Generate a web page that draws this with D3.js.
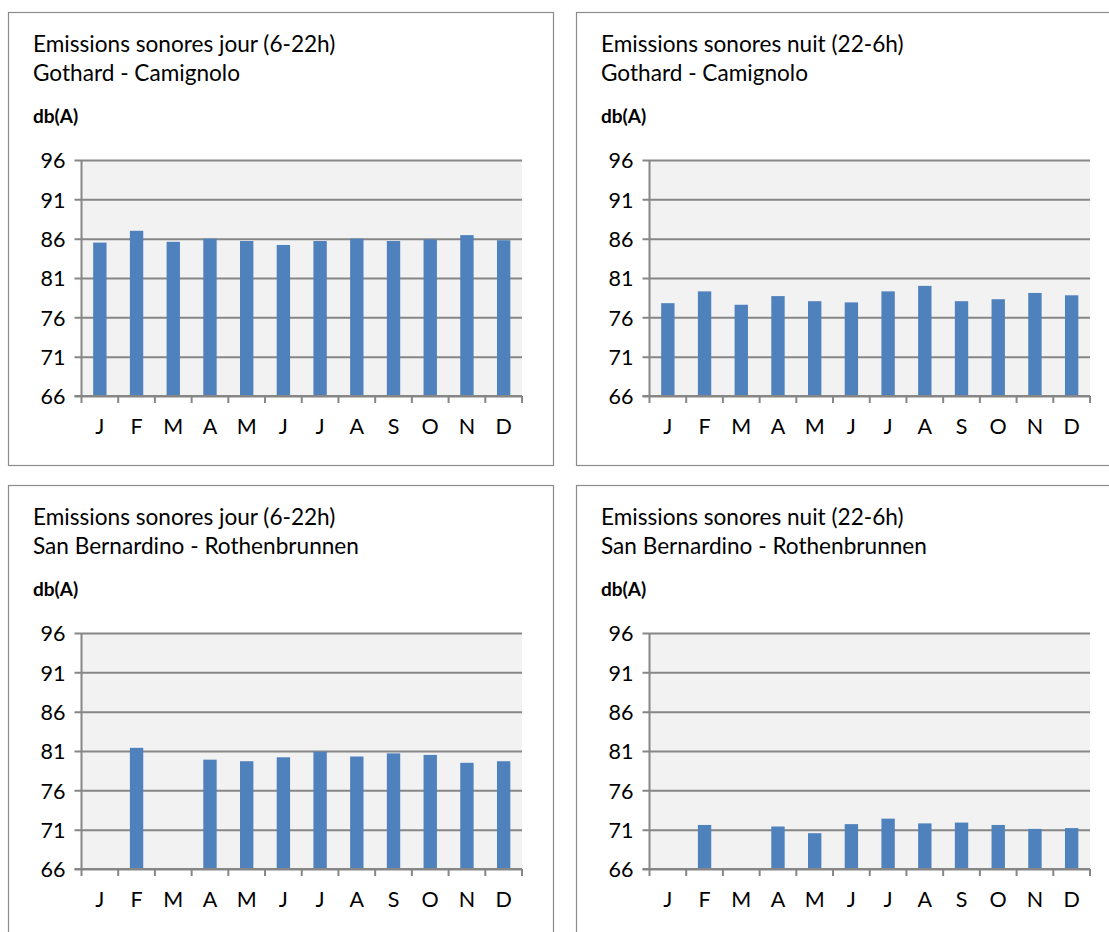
<!DOCTYPE html>
<html><head><meta charset="utf-8">
<script src="https://cdn.jsdelivr.net/npm/d3@7"></script>
<style>body{margin:0;background:#fff}svg{display:block}text{font-family:Lato,"Open Sans",sans-serif;fill:#000}</style>
</head><body><svg id="c" width="1109" height="932"></svg>
<script>
const months = ["J","F","M","A","M","J","J","A","S","O","N","D"];
const yTicks = [66,71,76,81,86,91,96];
const titles1 = ["Emissions sonores jour (6-22h)","Emissions sonores nuit (22-6h)","Emissions sonores jour (6-22h)","Emissions sonores nuit (22-6h)"];
const titles2 = ["Gothard - Camignolo","Gothard - Camignolo","San Bernardino - Rothenbrunnen","San Bernardino - Rothenbrunnen"];
const unitLabel = "db(A)";
const gothardJour = [85.5,87.0,85.6,86.0,85.7,85.2,85.7,86.0,85.7,85.9,86.45,85.8];
const gothardNuit = [77.8,79.3,77.6,78.7,78.05,77.9,79.3,80.0,78.05,78.3,79.1,78.8];
const sanBernJour = [null,81.4,null,79.9,79.7,80.2,80.9,80.3,80.7,80.5,79.5,79.7];
const sanBernNuit = [null,71.6,null,71.4,70.55,71.7,72.4,71.8,71.9,71.6,71.1,71.2];
const seriesList = [gothardJour, gothardNuit, sanBernJour, sanBernNuit];

const svg = d3.select("#c");
const panels = [
  {x:8,y:12,w:545,h:453},
  {x:576,y:12,w:545,h:453},
  {x:8,y:485,w:545,h:460},
  {x:576,y:485,w:545,h:460}
];
const barColor = "#4F81BD", gridColor = "#868686";

panels.forEach((p,i)=>{
  const g = svg.append("g").attr("transform",`translate(${p.x},${p.y})`);
  g.append("rect").attr("x",0.5).attr("y",0.5).attr("width",p.w).attr("height",p.h)
    .attr("fill","#fff").attr("stroke","#8c8c8c").attr("stroke-width",1.2);
  g.append("text").attr("x",25).attr("y",40).attr("font-size",22.6).text(titles1[i]);
  g.append("text").attr("x",25).attr("y",69).attr("font-size",22.6).text(titles2[i]);
  g.append("text").attr("x",25).attr("y",111).attr("font-size",19).attr("font-weight","bold").text(unitLabel);

  const left = 73.5, right = 514, top = 148, bottom = 384;
  const x = d3.scaleBand().domain(d3.range(12)).range([left,right]).paddingInner(0.636).paddingOuter(0.318);
  const xb = d3.scaleBand().domain(d3.range(12)).range([left,right]).padding(0);
  const y = d3.scaleLinear().domain([66,96]).range([bottom,top]);

  g.append("rect").attr("x",left).attr("y",top).attr("width",right-left).attr("height",bottom-top).attr("fill","#F2F2F2");
  const ya = d3.axisLeft(y).tickValues(yTicks).tickSize(-(right-left)).tickPadding(16).tickFormat(d3.format("d"));
  const yg = g.append("g").attr("transform",`translate(${left},0)`).call(ya);
  yg.select(".domain").remove();
  yg.selectAll(".tick line").attr("stroke",gridColor).attr("stroke-width",2).attr("x1",-7);
  yg.selectAll(".tick text").attr("font-size",21.5).attr("font-family","Lato,'Open Sans',sans-serif").attr("fill","#000").attr("dy","0.36em");
  g.append("line").attr("x1",left).attr("x2",left).attr("y1",top).attr("y2",bottom).attr("stroke",gridColor).attr("stroke-width",2);

  g.selectAll("rect.bar").data(seriesList[i].map((v,k)=>({v,k})).filter(d=>d.v!=null)).enter()
    .append("rect").attr("class","bar")
    .attr("x",d=>x(d.k)).attr("width",x.bandwidth())
    .attr("y",d=>y(d.v)).attr("height",d=>bottom-y(d.v)).attr("fill",barColor);

  g.append("line").attr("x1",left-7).attr("x2",right).attr("y1",bottom).attr("y2",bottom).attr("stroke",gridColor).attr("stroke-width",2);
  const tickPos = d3.range(13).map(k=> left + k*xb.bandwidth());
  g.selectAll("line.xt").data(tickPos).enter().append("line").attr("class","xt")
    .attr("x1",d=>d).attr("x2",d=>d).attr("y1",bottom).attr("y2",bottom+7).attr("stroke",gridColor).attr("stroke-width",2);
  g.selectAll("text.xl").data(months).enter().append("text").attr("class","xl")
    .attr("x",(d,k)=>xb(k)+xb.bandwidth()/2).attr("y",bottom+38).attr("text-anchor","middle")
    .attr("font-size",21.5).text(d=>d);
});
</script></body></html>
